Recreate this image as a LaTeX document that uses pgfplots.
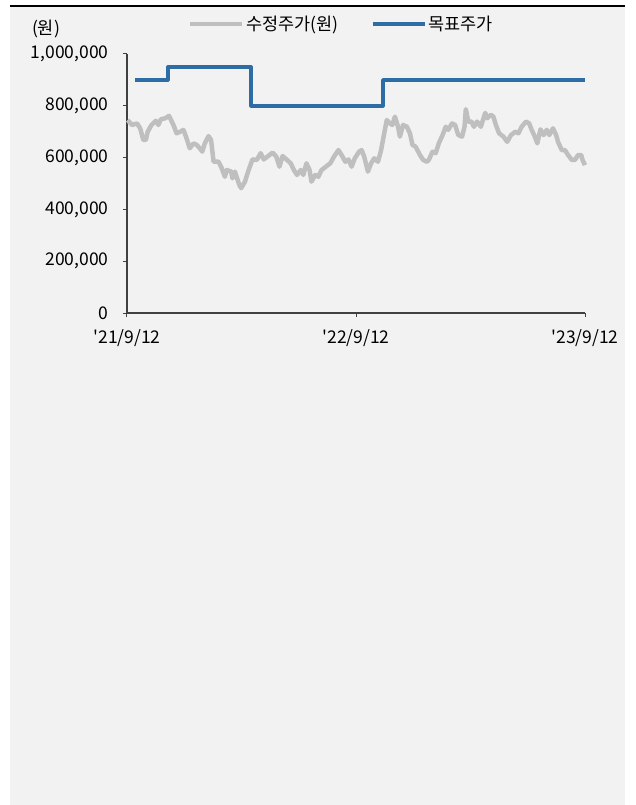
\documentclass[border=0pt]{standalone}
\usepackage{fontspec}
\setmainfont{Noto Sans CJK KR}
\usepackage{pgfplots}
\pgfplotsset{compat=1.18}

\definecolor{bgc}{HTML}{F2F2F2}
\definecolor{pricegray}{HTML}{BFBFBF}
\definecolor{tpblue}{HTML}{2E6CA6}
\definecolor{axisgray}{HTML}{404040}

\newcommand{\chartfont}{\fontsize{17.5}{21}\selectfont}

\begin{document}
\begin{tikzpicture}
\path[use as bounding box] (0pt,0pt) rectangle (635pt,-805pt);
\fill[bgc] (10pt,-7pt) rectangle (625pt,-805pt);
\draw[black, line width=2pt] (10pt,-6pt) -- (625pt,-6pt);
\node[font=\chartfont, anchor=center] at (46pt,-29pt) {(원)};

\begin{axis}[
  at={(127pt,-313pt)}, anchor=south west,
  scale only axis, width=458pt, height=259pt,
  xmin=0, xmax=730, ymin=0, ymax=1000000,
  axis lines*=left,
  axis line style={axisgray, line width=1.2pt},
  tick style={axisgray, line width=1pt},
  tick align=outside, major tick length=4pt,
  xtick={0,365,730},
  xticklabels={\textquotesingle21/9/12, \textquotesingle22/9/12, \textquotesingle23/9/12},
  ytick={0,200000,400000,600000,800000,1000000},
  scaled y ticks=false,
  /pgf/number format/assume math mode=true,
  /pgf/number format/fixed,
  /pgf/number format/1000 sep={,},
  ticklabel style={font=\chartfont},
  yticklabel style={xshift=-11pt},
  xticklabel style={yshift=-9pt},
  clip=false,
  legend columns=2,
  legend style={at={(0.468,1.116)}, anchor=center, draw=none, fill=none,
    font=\chartfont, /tikz/every even column/.append style={column sep=30pt}},
  legend image code/.code={\draw[#1] (0pt,0pt) -- (52pt,0pt);},
]
\addplot[pricegray, line width=4.5pt, line join=round] coordinates {
(1,745000)(8,726000)(16,732000)(21,713000)(26,668000)(30,668000)(33,700000)(39,726000)(46,742000)(50,726000)(54,748000)(61,752000)(67,761000)(74,726000)(79,694000)(85,700000)(90,707000)(94,681000)(100,636000)(106,655000)(111,649000)(116,636000)(120,623000)(124,655000)(130,683000)(134,668000)(138,584000)(146,584000)(151,559000)(156,526000)(159,552000)(166,546000)(168,520000)(172,546000)(179,494000)(182,482000)(188,507000)(193,546000)(200,593000)(207,591000)(213,617000)(218,593000)(225,606000)(232,619000)(238,604000)(243,565000)(248,606000)(255,591000)(261,578000)(266,552000)(271,533000)(277,552000)(281,533000)(286,578000)(291,552000)(294,507000)(300,533000)(305,526000)(310,552000)(317,565000)(324,578000)(330,604000)(337,629000)(342,610000)(348,584000)(353,593000)(358,565000)(363,597000)(370,623000)(374,629000)(378,604000)(384,546000)(389,578000)(394,597000)(400,584000)(405,629000)(409,681000)(414,745000)(419,732000)(423,726000)(427,758000)(432,719000)(435,681000)(440,726000)(446,719000)(451,694000)(455,649000)(460,642000)(467,610000)(472,591000)(478,584000)(481,591000)(487,623000)(492,617000)(497,655000)(503,687000)(508,719000)(512,707000)(518,732000)(523,726000)(528,687000)(534,681000)(538,719000)(540,787000)(544,739000)(549,739000)(553,719000)(558,739000)(564,719000)(571,773000)(574,752000)(580,765000)(584,758000)(588,726000)(593,694000)(600,681000)(606,661000)(612,687000)(619,700000)(624,694000)(629,719000)(636,739000)(641,732000)(645,707000)(650,681000)(654,655000)(659,709000)(664,687000)(669,707000)(673,687000)(679,713000)(684,687000)(687,661000)(693,629000)(698,629000)(703,610000)(709,591000)(714,591000)(719,610000)(724,610000)(726,591000)(730,571000)
};
\addlegendentry{수정주가(원)}
\addplot[tpblue, line width=3.5pt, line join=round] coordinates {
(13,900000)(65,900000)(65,950000)(198,950000)(198,800000)(408,800000)(408,900000)(730,900000)
};
\addlegendentry{목표주가}
\end{axis}
\end{tikzpicture}
\end{document}
